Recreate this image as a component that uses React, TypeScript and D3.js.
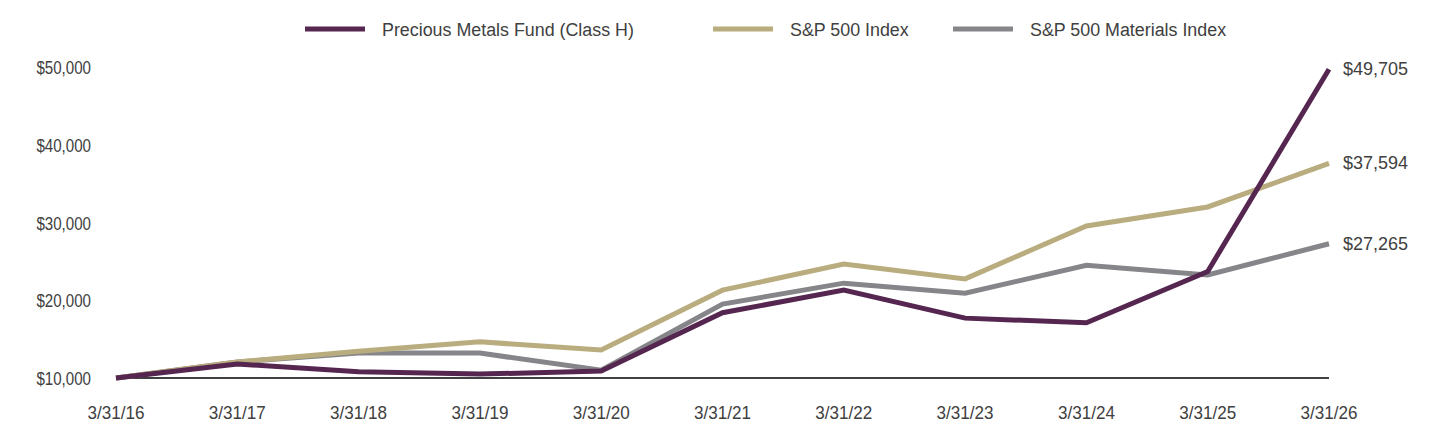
import * as d3 from 'd3'

const dates = ['3/31/16', '3/31/17', '3/31/18', '3/31/19', '3/31/20', '3/31/21', '3/31/22', '3/31/23', '3/31/24', '3/31/25', '3/31/26']
const fundValues = [10000, 11800, 10800, 10500, 10900, 18400, 21300, 17700, 17100, 23700, 49705]
const spValues = [10000, 12050, 13450, 14650, 13600, 21300, 24650, 22750, 29550, 32000, 37594]
const materialsValues = [10000, 12050, 13200, 13200, 11000, 19500, 22200, 20900, 24500, 23250, 27265]
const yTicks = [10000, 20000, 30000, 40000, 50000]

const seriesNames = ['Precious Metals Fund (Class H)', 'S&P 500 Index', 'S&P 500 Materials Index']
const seriesColors = ['#55264F', '#B9AC7E', '#86868A']

const W = 1440
const H = 444
const X0 = 116
const X1 = 1329
const Y_BOTTOM = 378
const Y_TOP = 67
const FONT = '"Liberation Sans", Arial, sans-serif'
const TEXT = '#404040'

// narrow-looking text: regular sans squeezed horizontally around its anchor point
function SqText(props: { x: number; y: number; sx: number; size: number; anchor?: string; children: string }) {
  const { x, y, sx, size, anchor = 'start', children } = props
  return (
    <text
      transform={`translate(${x},${y}) scale(${sx},1)`}
      textAnchor={anchor}
      fontFamily={FONT}
      fontSize={size}
      fill={TEXT}
    >
      {children}
    </text>
  )
}

export default function App() {
  const x = d3.scalePoint<string>().domain(dates).range([X0, X1])
  const y = d3.scaleLinear().domain([10000, 50000]).range([Y_BOTTOM, Y_TOP])
  const fmt = d3.format('$,.0f')

  const series = [fundValues, spValues, materialsValues]
  const line = d3
    .line<number>()
    .x((_, i) => x(dates[i]) ?? 0)
    .y((d) => y(d))

  // draw order: materials, s&p, then fund on top
  const order = [2, 1, 0]
  const legendX = [305, 713, 953]

  return (
    <div style={{ position: 'fixed', left: 0, top: 0 }}>
      <svg width={W} height={H} style={{ display: 'block', background: '#fff' }}>
        {legendX.map((lx, i) => (
          <g key={seriesNames[i]}>
            <line x1={lx} x2={lx + 60} y1={29} y2={29} stroke={seriesColors[i]} strokeWidth={5} />
            <SqText x={lx + 77} y={36} sx={0.94} size={19}>
              {seriesNames[i]}
            </SqText>
          </g>
        ))}

        {yTicks.map((t) => (
          <SqText key={t} x={91} y={y(t) + 7} sx={0.84} size={18} anchor="end">
            {fmt(t)}
          </SqText>
        ))}

        {dates.map((d) => (
          <SqText key={d} x={x(d) ?? 0} y={419} sx={0.95} size={18} anchor="middle">
            {d}
          </SqText>
        ))}

        <line x1={X0} x2={X1} y1={Y_BOTTOM} y2={Y_BOTTOM} stroke="#404040" strokeWidth={2} />

        {order.map((i) => (
          <path
            key={seriesNames[i]}
            d={line(series[i]) ?? ''}
            fill="none"
            stroke={seriesColors[i]}
            strokeWidth={5}
            strokeLinejoin="miter"
          />
        ))}

        {series.map((s, i) => (
          <text
            key={'end' + i}
            x={X1 + 14}
            y={y(s[s.length - 1]) + 6}
            fontFamily={FONT}
            fontSize={18}
            fill={TEXT}
          >
            {fmt(s[s.length - 1])}
          </text>
        ))}
      </svg>
    </div>
  )
}
